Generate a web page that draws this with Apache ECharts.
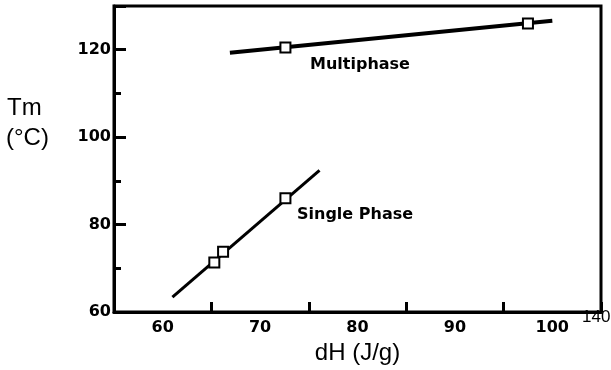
<!DOCTYPE html>
<html>
<head>
<meta charset="utf-8">
<script src="https://cdn.jsdelivr.net/npm/echarts@6/dist/echarts.min.js"></script>
<style>
  html, body { margin: 0; padding: 0; background: #fff; }
  #chart { width: 611px; height: 370px; }
</style>
</head>
<body>
<div id="chart"></div>
<script>
// measured points
const multiX = [72.6, 97.5];
const multiY = [120.5, 126.0];
const singleX = [65.3, 66.2, 72.6];
const singleY = [71.3, 73.8, 86.0];
// fitted line end points
const multiFitX = [66.9, 100.0];
const multiFitY = [119.3, 126.6];
const singleFitX = [61.0, 76.1];
const singleFitY = [63.4, 92.4];
// axis labels
const xLabels = [60, 70, 80, 90, 100];
const yLabels = [60, 80, 100, 120];

const zip = (xs, ys) => xs.map((x, i) => [x, ys[i]]);
const boldFont = 'DejaVu Sans';

const chart = echarts.init(document.getElementById('chart'), null, { renderer: 'canvas' });

const markerStyle = {
  color: '#fff',
  borderColor: '#000',
  borderWidth: 2,
  opacity: 1,
};

chart.setOption({
  animation: false,
  backgroundColor: '#fff',
  grid: {
    left: 114,
    right: 10,
    top: 6,
    bottom: 58,
    show: true,
    borderColor: '#000',
    borderWidth: 3,
  },
  xAxis: [
    {
      type: 'value',
      min: 55,
      max: 105,
      interval: 5,
      name: 'dH (J/g)',
      nameLocation: 'middle',
      nameGap: 29,
      nameTextStyle: { fontFamily: 'Liberation Sans', fontSize: 24, color: '#000' },
      axisLine: { show: true, lineStyle: { color: '#000', width: 3 } },
      axisTick: { show: false },
      splitLine: { show: false },
      axisLabel: {
        margin: 8,
        color: '#000',
        fontFamily: boldFont,
        fontWeight: 'bold',
        fontSize: 16,
        formatter: v => (xLabels.includes(v) ? String(v) : ''),
      },
    },
    {
      type: 'value',
      min: 55,
      max: 105,
      interval: 10,
      position: 'bottom',
      axisLine: { show: false },
      axisLabel: { show: false },
      splitLine: { show: false },
      axisTick: { show: true, inside: true, length: 10, lineStyle: { color: '#000', width: 3 } },
    },
  ],
  yAxis: [
    {
      type: 'value',
      min: 60,
      max: 130,
      interval: 20,
      axisLine: { show: true, lineStyle: { color: '#000', width: 3 } },
      splitLine: { show: false },
      axisTick: { show: true, inside: true, length: 12, lineStyle: { color: '#000', width: 3 } },
      axisLabel: {
        margin: 3,
        color: '#000',
        fontFamily: boldFont,
        fontWeight: 'bold',
        fontSize: 16,
        formatter: v => (yLabels.includes(v) ? String(v) : ''),
      },
    },
    {
      type: 'value',
      min: 60,
      max: 130,
      interval: 10,
      position: 'left',
      axisLine: { show: false },
      axisLabel: { show: false },
      splitLine: { show: false },
      axisTick: { show: true, inside: true, length: 7, lineStyle: { color: '#000', width: 3 } },
    },
  ],
  graphic: [
    { type: 'text', left: 7, top: 96, style: { text: 'Tm', font: '24px "Liberation Sans"', fill: '#000' } },
    { type: 'text', left: 6, top: 126, style: { text: '(°C)', font: '24px "Liberation Sans"', fill: '#000' } },
    { type: 'text', left: 310, top: 57, style: { text: 'Multiphase', font: 'bold 16px "DejaVu Sans"', fill: '#000' } },
    { type: 'text', left: 297, top: 207, style: { text: 'Single Phase', font: 'bold 16px "DejaVu Sans"', fill: '#000' } },
    { type: 'text', left: 582, top: 309, style: { text: '140', font: '17px "Liberation Sans"', fill: '#000' } },
  ],
  series: [
    {
      name: 'Multiphase fit',
      type: 'line',
      data: zip(multiFitX, multiFitY),
      showSymbol: false,
      lineStyle: { color: '#000', width: 4 },
      z: 2,
    },
    {
      name: 'Single Phase fit',
      type: 'line',
      data: zip(singleFitX, singleFitY),
      showSymbol: false,
      lineStyle: { color: '#000', width: 3 },
      z: 2,
    },
    {
      name: 'Multiphase',
      type: 'scatter',
      data: zip(multiX, multiY),
      symbol: 'rect',
      symbolSize: 10,
      itemStyle: markerStyle,
      z: 3,
    },
    {
      name: 'Single Phase',
      type: 'scatter',
      data: zip(singleX, singleY),
      symbol: 'rect',
      symbolSize: 10,
      itemStyle: markerStyle,
      z: 3,
    },
  ],
});
</script>
</body>
</html>
